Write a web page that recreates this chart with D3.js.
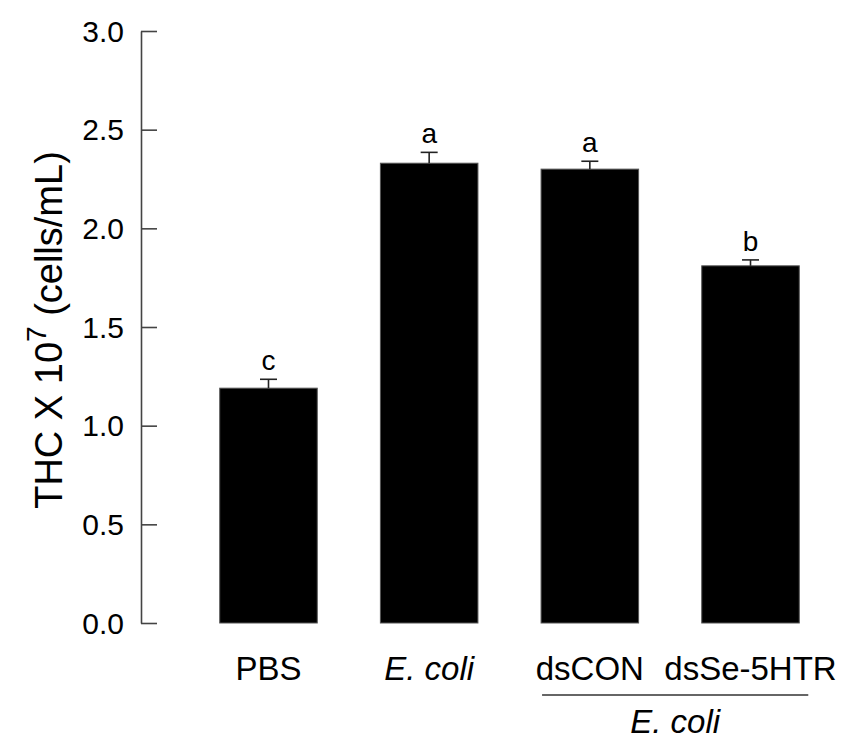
<!DOCTYPE html>
<html>
<head>
<meta charset="utf-8">
<script src="https://cdn.jsdelivr.net/npm/d3@7"></script>
<style>
  body { margin: 0; background: #fff; }
  text { font-family: "Liberation Sans", Arial, sans-serif; fill: #000; }
</style>
</head>
<body>
<div id="chart"></div>
<script>
var groups = ['PBS', 'E. coli', 'dsCON', 'dsSe-5HTR'];
var italicGroups = ['E. coli'];
var means = [1.19, 2.33, 2.30, 1.81];
var errors = [0.045, 0.055, 0.04, 0.03];
var letters = ['c', 'a', 'a', 'b'];
var yTicks = [0, 0.5, 1.0, 1.5, 2.0, 2.5, 3.0];
var bracketGroups = ['dsCON', 'dsSe-5HTR'];
var bracketLabel = 'E. coli';

var width = 860, height = 740;
var svg = d3.select('#chart').append('svg')
    .attr('width', width)
    .attr('height', height);

// scales
var yScale = d3.scaleLinear().domain([0, 3]).range([623, 31]);
var xScale = d3.scaleBand()
    .domain(groups)
    .range([141, 878])
    .paddingInner(0.393)
    .paddingOuter(0.49);

// y axis, ticks point inward (minor every 0.1)
var axisX = 141;
var gy = svg.append('g').attr('transform', 'translate(' + axisX + ',0)');
gy.call(d3.axisRight(yScale).tickValues(d3.range(0, 3.0001, 0.1)).tickSize(7).tickFormat(''));
gy.call(d3.axisRight(yScale).tickValues(yTicks).tickSize(16).tickSizeOuter(0).tickFormat(''));
gy.selectAll('path, line').attr('stroke', '#444').attr('stroke-width', 1.6);

svg.append('g').selectAll('text')
    .data(yTicks)
    .enter().append('text')
    .attr('x', axisX - 17)
    .attr('y', d => yScale(d))
    .attr('dy', '0.36em')
    .attr('text-anchor', 'end')
    .style('font-size', '30px')
    .text(d => d.toFixed(1));

// y title
svg.append('text')
    .attr('transform', 'translate(62,330) rotate(-90)')
    .attr('text-anchor', 'middle')
    .style('font-size', '38px')
    .html('THC X 10<tspan dy="-16" style="font-size:28px">7</tspan><tspan dy="16"> (cells/mL)</tspan>');

// bars
svg.append('g').selectAll('rect')
    .data(groups)
    .enter().append('rect')
    .attr('x', d => xScale(d))
    .attr('y', (d, i) => yScale(means[i]))
    .attr('width', xScale.bandwidth())
    .attr('height', (d, i) => yScale(0) - yScale(means[i]))
    .attr('fill', '#000')
    .attr('stroke', '#555')
    .attr('stroke-width', 1);

// error bars (upper only) and letters
var eg = svg.append('g').attr('stroke', '#222').attr('stroke-width', 1.6);
groups.forEach(function (g, i) {
    var cx = xScale(g) + xScale.bandwidth() / 2;
    var top = yScale(means[i] + errors[i]);
    eg.append('line')
        .attr('x1', cx).attr('x2', cx)
        .attr('y1', yScale(means[i])).attr('y2', top);
    eg.append('line')
        .attr('x1', cx - 8.5).attr('x2', cx + 8.5)
        .attr('y1', top).attr('y2', top);
    svg.append('text')
        .attr('x', cx)
        .attr('y', top - 9)
        .attr('text-anchor', 'middle')
        .style('font-size', '28px')
        .text(letters[i]);
});

// x labels
svg.append('g').selectAll('text')
    .data(groups)
    .enter().append('text')
    .attr('x', d => xScale(d) + xScale.bandwidth() / 2)
    .attr('y', 680)
    .attr('text-anchor', 'middle')
    .style('font-size', '33px')
    .style('font-style', d => italicGroups.indexOf(d) >= 0 ? 'italic' : 'normal')
    .text(d => d);

// group bracket under dsCON / dsSe-5HTR
var x1 = xScale(bracketGroups[0]) + 1;
var x2 = xScale(bracketGroups[1]) + xScale.bandwidth() + 9;
svg.append('line')
    .attr('x1', x1).attr('x2', x2)
    .attr('y1', 695).attr('y2', 695)
    .attr('stroke', '#333').attr('stroke-width', 1.3);
svg.append('text')
    .attr('x', (x1 + x2) / 2)
    .attr('y', 733)
    .attr('text-anchor', 'middle')
    .style('font-size', '33px')
    .style('font-style', 'italic')
    .text(bracketLabel);
</script>
</body>
</html>
